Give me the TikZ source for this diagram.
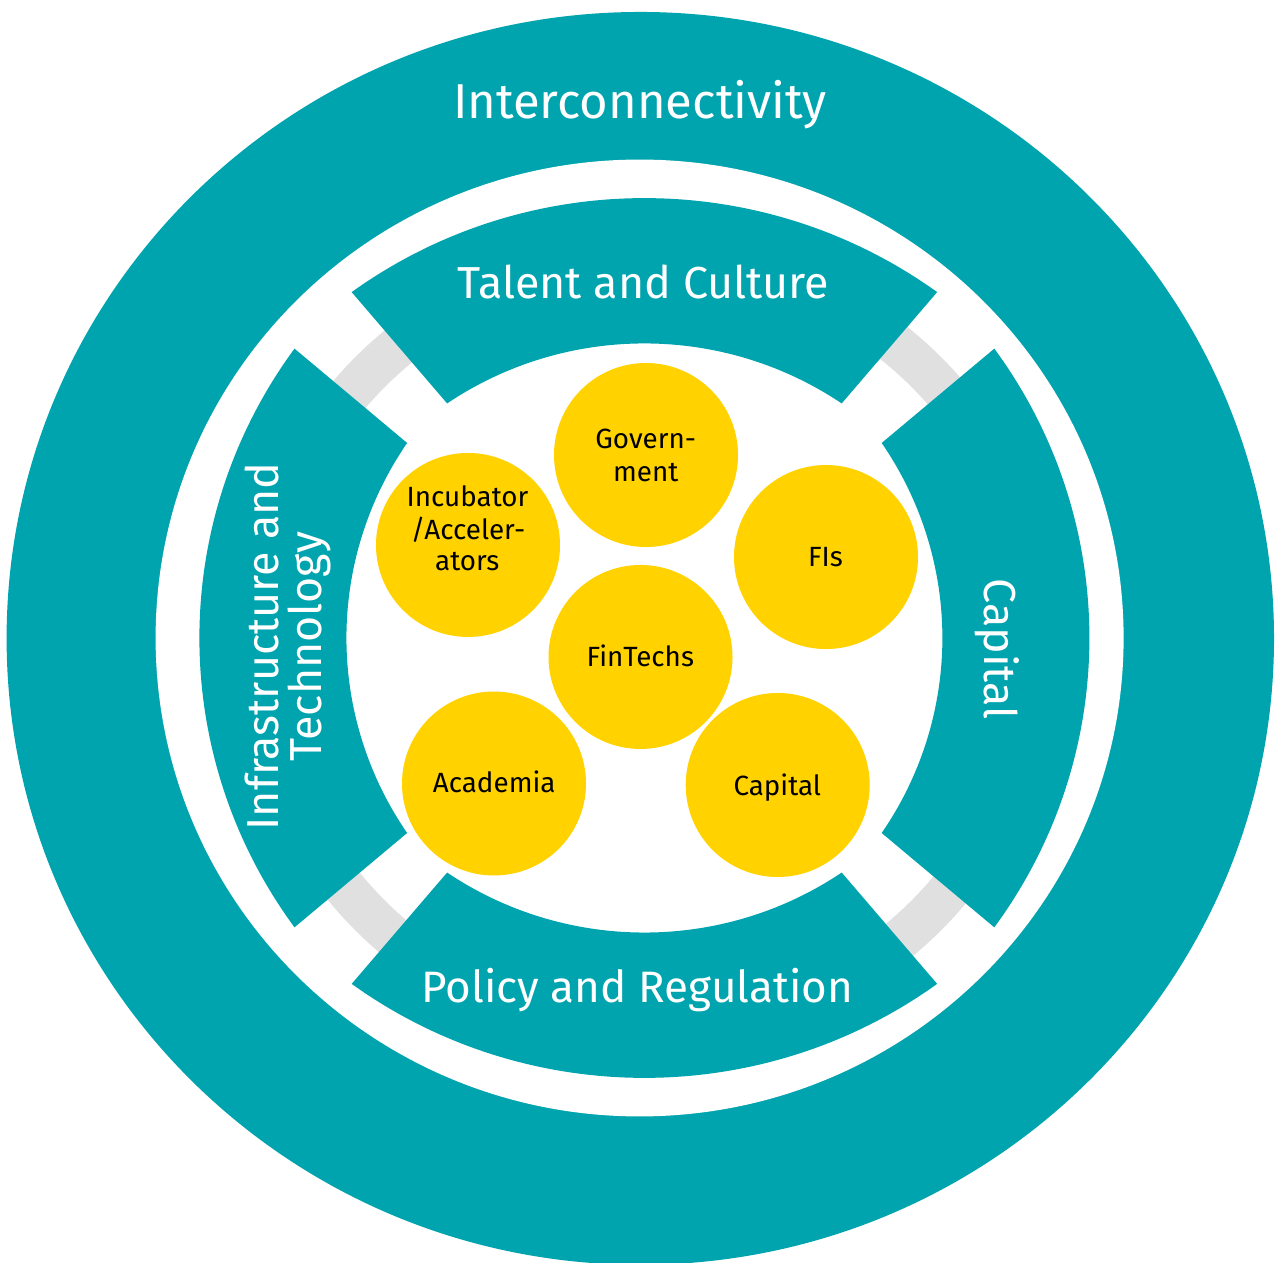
\documentclass[tikz,border=0pt]{standalone}
\usepackage{fontspec}
\setmainfont{Fira Sans}
\usetikzlibrary{calc}
\definecolor{eyteal}{RGB}{0,164,174}
\definecolor{eyyellow}{RGB}{255,210,0}
\definecolor{ringgray}{RGB}{224,224,224}
\newcommand{\ringsector}[1]{%
  \fill[eyteal] ($(M)+(#1+180:53)+(#1-36:498)$)
    arc[start angle=#1-36, end angle=#1+36, radius=498]
    -- ($(M)+(#1+180:53)+(#1+34.2:351)$)
    arc[start angle=#1+34.2, end angle=#1-34.2, radius=351] -- cycle;}
\begin{document}
\begin{tikzpicture}[x=0.5pt, y=-0.49425pt,
  hub/.style={circle, fill=eyyellow, minimum size=92pt, inner sep=0pt},
  hubtext/.style={anchor=base, text=black, font=\fontsize{13.9}{16}\selectfont, inner sep=0pt},
  ringtext/.style={anchor=base, text=white, font=\fontsize{22.4}{26}\selectfont, inner sep=0pt},
  outertext/.style={anchor=base, text=white, font=\fontsize{24.5}{28}\selectfont, inner sep=0pt}]
\useasboundingbox (0,0) rectangle (1277,1276.7);
\clip (0,0) rectangle (1277,1276.7);
\fill[white] (0,0) rectangle (1277,1276.7);
\coordinate (M) at (644.4,645.4);
\fill[eyteal] (640.3,645.8) circle [radius=633.7];
\fill[white] (639.6,645.4) circle [radius=484];
\draw[ringgray, line width=21pt] (648.2,651.2) circle [radius=391];
\ringsector{-90}
\ringsector{0}
\ringsector{90}
\ringsector{180}
\node[hub] (gov) at (646,460.3) {};
\node[hub] (inc) at (468,551.3) {};
\node[hub] (fis) at (826,563.5) {};
\node[hub] (fin) at (640.5,664.6) {};
\node[hub] (aca) at (494,792.6) {};
\node[hub] (cap) at (777.7,794.1) {};
\node[hubtext] (gov1) at (645.7,454.0) {Govern-};
\node[hubtext] (gov2) at (645.7,486.8) {ment};
\node[hubtext] (inc1) at (467.5,512.2) {Incubator};
\node[hubtext] (inc2) at (468,545.3) {/Acceler-};
\node[hubtext] (inc3) at (467.3,577.6) {ators};
\node[hubtext] (fis1) at (825.4,573.2) {FIs};
\node[hubtext] (fin1) at (640.3,674.3) {FinTechs};
\node[hubtext] (aca1) at (494.2,801.4) {Academia};
\node[hubtext] (cap1) at (777.3,804.9) {Capital};
\node[outertext] (inter) at (640,119.7) {Interconnectivity};
\node[ringtext] (talent) at (643.3,301.8) {Talent and Culture};
\node[ringtext, font=\fontsize{22}{26}\selectfont] (policy) at (637.2,1014.4) {Policy and Regulation};
\node[ringtext, rotate=90] (infra1) at (278.3,654.0) {Infrastructure and};
\node[ringtext, rotate=90] (infra2) at (321.7,654.2) {Technology};
\node[ringtext, rotate=-90] (capring) at (984,656.5) {Capital};
\end{tikzpicture}
\end{document}
